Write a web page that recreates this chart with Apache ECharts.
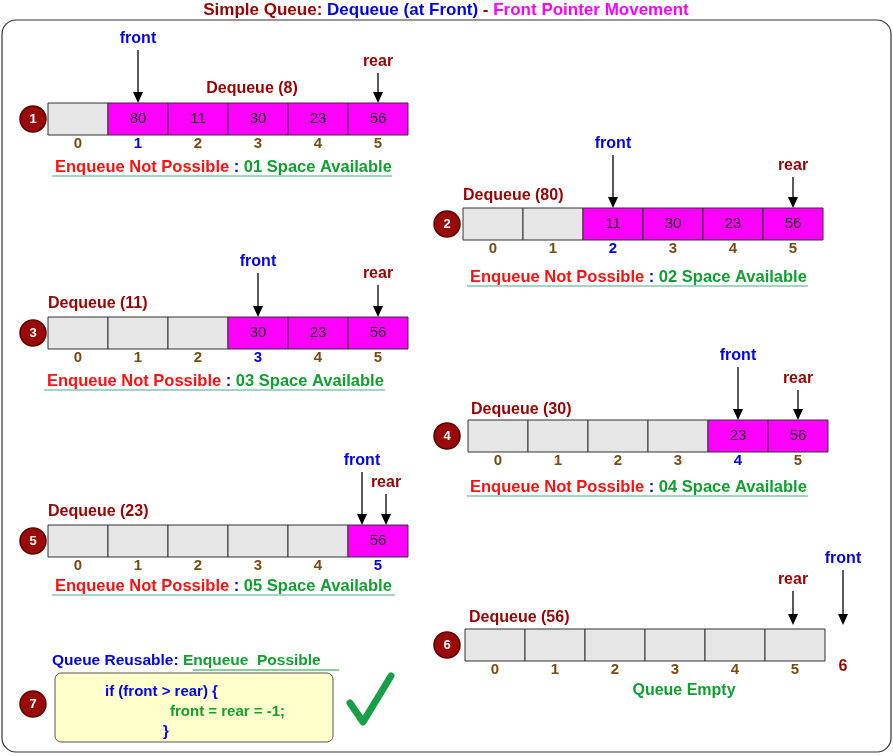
<!DOCTYPE html>
<html><head><meta charset="utf-8">
<script src="https://cdn.jsdelivr.net/npm/echarts@6/dist/echarts.min.js"></script>
<style>html,body{margin:0;padding:0;background:#fff}#c{width:893px;height:756px}</style>
</head><body><div id="c"></div>
<script>
// ---- data ----
const queueValues = [
  [null, 80, 11, 30, 23, 56],
  [null, null, 11, 30, 23, 56],
  [null, null, null, 30, 23, 56],
  [null, null, null, null, 23, 56],
  [null, null, null, null, null, 56],
  [null, null, null, null, null, null]
];
const dequeued = [8, 80, 11, 30, 23, 56];
const frontIdx = [1, 2, 3, 4, 5, 6];
const rearIdx = [5, 5, 5, 5, 5, 5];
const spaces = ['01', '02', '03', '04', '05'];
const indexLabels = ['0', '1', '2', '3', '4', '5'];

// ---- layout ----
const CW = 60, CH = 32;
const L = [
  {x:48, y:103, cx:33, dqx:252, dqAlign:'center', dqy:89, frontLbl:39, rearLbl:62, fx:0, rx:0, ty:166, tx:52, tx2:392},
  {x:463, y:208, cx:447, dqx:463, dqAlign:'left', dqy:196, frontLbl:144, rearLbl:166, fx:0, rx:0, ty:276, tx:467, tx2:808},
  {x:48, y:317, cx:33, dqx:48, dqAlign:'left', dqy:304, frontLbl:262, rearLbl:274, fx:0, rx:0, ty:380, tx:44, tx2:385},
  {x:468, y:420, cx:447, dqx:471, dqAlign:'left', dqy:410, frontLbl:356, rearLbl:379, fx:0, rx:0, ty:486, tx:467, tx2:808},
  {x:48, y:525, cx:33, dqx:48, dqAlign:'left', dqy:512, frontLbl:461, rearLbl:483, fx:-16, rx:8, ty:585, tx:52, tx2:395},
  {x:465, y:629, cx:447, dqx:469, dqAlign:'left', dqy:618, frontLbl:559, rearLbl:580, fx:8, rx:-2, ty:691}
];
const FONT = 'Liberation Sans, Arial, sans-serif';

const cellData = [];
queueValues.forEach((row, p) => row.forEach((v, i) => cellData.push([p, i, v == null ? '' : v])));

const chart = echarts.init(document.getElementById('c'));
const g = [];
g.push({type:'rect', shape:{x:2, y:20, width:889, height:732, r:14}, style:{fill:'none', stroke:'#333', lineWidth:1.2}});
g.push({type:'text', x:446, y:10, style:{text:'{a|Simple Queue: }{b|Dequeue (at Front)}{a| - }{c|Front Pointer Movement}', align:'center', verticalAlign:'middle',
  rich:{a:{fill:'#990000', font:'bold 17px '+FONT}, b:{fill:'#0000ee', font:'bold 17px '+FONT}, c:{fill:'#ff00ff', font:'bold 17px '+FONT}}}});

function arrow(x, y1, y2) {
  g.push({type:'line', shape:{x1:x, y1:y1, x2:x, y2:y2-9}, style:{stroke:'#000', lineWidth:1.3}});
  g.push({type:'polygon', shape:{points:[[x-5, y2-11], [x+5, y2-11], [x, y2]]}, style:{fill:'#000'}});
}
function circle(cx, cy, n) {
  g.push({type:'circle', shape:{cx:cx, cy:cy, r:13}, style:{fill:'#9b0a0a', stroke:'#5a0000', lineWidth:1.5}});
  g.push({type:'text', x:cx, y:cy, style:{text:String(n), fill:'#fff', font:'bold 13px '+FONT, align:'center', verticalAlign:'middle'}});
}
L.forEach((l, p) => {
  const cy = l.y + CH / 2;
  circle(l.cx, cy, p + 1);
  g.push({type:'text', x:l.dqx, y:l.dqy, style:{text:'Dequeue (' + dequeued[p] + ')', fill:'#990000', font:'bold 16px '+FONT, align:l.dqAlign, verticalAlign:'middle'}});
  const fxc = l.x + frontIdx[p] * CW + CW / 2 + l.fx + (p === 5 ? -20 : 0);
  const rxc = l.x + rearIdx[p] * CW + CW / 2 + l.rx;
  arrow(fxc, l.frontLbl + 11, p === 5 ? l.y - 4 : l.y);
  arrow(rxc, l.rearLbl + 11, p === 5 ? l.y - 4 : l.y);
  g.push({type:'text', x:fxc, y:l.frontLbl, style:{text:'front', fill:'#0000ee', font:'bold 16px '+FONT, align:'center', verticalAlign:'middle'}});
  g.push({type:'text', x:rxc, y:l.rearLbl, style:{text:'rear', fill:'#990000', font:'bold 16px '+FONT, align:'center', verticalAlign:'middle'}});
  if (p < 5) {
    g.push({type:'text', x:l.tx + 3, y:l.ty + 1, style:{text:'{r|Enqueue Not Possible }{b|: }{gr|' + spaces[p] + ' Space Available}', verticalAlign:'middle',
      rich:{r:{fill:'#ff1111', font:'bold 16.5px '+FONT}, b:{fill:'#0000ee', font:'bold 16.5px '+FONT}, gr:{fill:'#11a030', font:'bold 16.5px '+FONT}}}});
    g.push({type:'line', shape:{x1:l.tx, y1:l.ty + 10, x2:l.tx2, y2:l.ty + 10}, style:{stroke:'#4a8', lineWidth:1}});
  } else {
    g.push({type:'text', x:l.x + 219, y:l.ty, style:{text:'Queue Empty', fill:'#11a030', font:'bold 16px '+FONT, align:'center', verticalAlign:'middle'}});
    g.push({type:'text', x:843, y:667, style:{text:String(frontIdx[p]), fill:'#990000', font:'bold 16px '+FONT, align:'center', verticalAlign:'middle'}});
  }
});
circle(33, 704, 7);
g.push({type:'text', x:52, y:661, style:{text:'{b|Queue Reusable: }{gr|Enqueue  Possible}', verticalAlign:'middle',
  rich:{b:{fill:'#0000ee', font:'bold 15.5px '+FONT}, gr:{fill:'#11a030', font:'bold 15.5px '+FONT}}}});
g.push({type:'line', shape:{x1:193, y1:670, x2:339, y2:670}, style:{stroke:'#11a030', lineWidth:1}});
g.push({type:'rect', shape:{x:55, y:673, width:278, height:69, r:6}, style:{fill:'#ffffcc', stroke:'#555', lineWidth:1}});
g.push({type:'text', x:105, y:692, style:{text:'if (front > rear) {', fill:'#0000ee', font:'bold 15px '+FONT, verticalAlign:'middle'}});
g.push({type:'text', x:170, y:712, style:{text:'front = rear = -1;', fill:'#11a030', font:'bold 15px '+FONT, verticalAlign:'middle'}});
g.push({type:'text', x:163, y:732, style:{text:'}', fill:'#0000ee', font:'bold 15px '+FONT, verticalAlign:'middle'}});
g.push({type:'polyline', shape:{points:[[350, 703], [363, 722], [391, 676]]}, style:{stroke:'#18a048', lineWidth:7, fill:'none', lineCap:'round', lineJoin:'round'}});

chart.setOption({
  animation:false,
  grid:{left:0, right:0, top:0, bottom:0},
  xAxis:{type:'value', min:0, max:893, show:false},
  yAxis:{type:'value', min:0, max:756, inverse:true, show:false},
  series:[{
    type:'custom',
    data:cellData,
    renderItem:function(params, api){
      const p = api.value(0), i = api.value(1);
      const v = queueValues[p][i];
      const l = L[p];
      const pt = api.coord([l.x + i * CW, l.y]);
      const sz = api.size([CW, CH]);
      const isFront = i === frontIdx[p];
      return {type:'group', children:[
        {type:'rect', shape:{x:pt[0], y:pt[1], width:sz[0], height:sz[1]},
          style:{fill: v == null ? '#e6e6e6' : '#ff00ff', stroke:'#333', lineWidth:1}},
        {type:'text', x:pt[0] + sz[0] / 2, y:pt[1] + sz[1] / 2,
          style:{text: v == null ? '' : String(v), fill:'#222', font:'15px '+FONT, align:'center', verticalAlign:'middle'}},
        {type:'text', x:pt[0] + sz[0] / 2, y:pt[1] + sz[1] + 9,
          style:{text:indexLabels[i], fill: isFront ? '#0000ee' : '#7a4a10', font:'bold 15px '+FONT, align:'center', verticalAlign:'middle'}}
      ]};
    }
  }],
  graphic:g
});
</script></body></html>
